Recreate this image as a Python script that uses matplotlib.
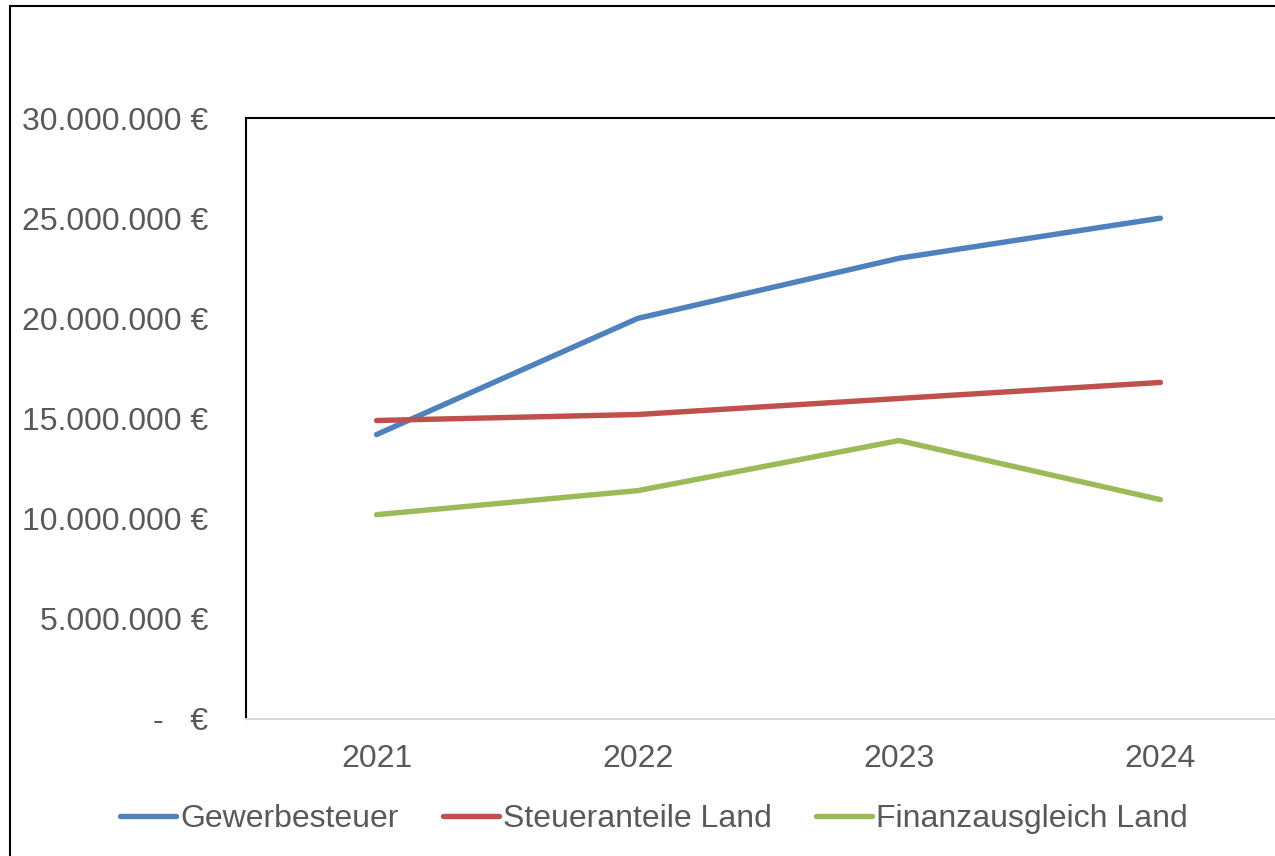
import matplotlib
matplotlib.use("Agg")
import matplotlib.pyplot as plt
from matplotlib.patches import Rectangle
from matplotlib.ticker import FuncFormatter, MultipleLocator

plt.rcParams['font.family'] = ['Liberation Sans', 'DejaVu Sans']

# Einnahmen pro Jahr in Euro
jahre = ['2021', '2022', '2023', '2024']
gewerbesteuer = [14_200_000, 20_000_000, 23_000_000, 25_000_000]
steueranteile_land = [14_900_000, 15_200_000, 16_000_000, 16_800_000]
finanzausgleich_land = [10_200_000, 11_400_000, 13_900_000, 10_950_000]

reihen = [
    ('Gewerbesteuer', gewerbesteuer, '#4F81BD'),
    ('Steueranteile Land', steueranteile_land, '#C0504D'),
    ('Finanzausgleich Land', finanzausgleich_land, '#9BBB59'),
]

textfarbe = '#595959'


def euro(wert, pos=None):
    if wert == 0:
        return '-   €'
    return f'{int(wert):,}'.replace(',', '.') + ' €'


fig = plt.figure(figsize=(12.75, 8.56), dpi=100)
# Diagrammfläche reicht rechts über den Bildrand hinaus
ax = fig.add_axes([246 / 1275, 1 - 719 / 856, 1045 / 1275, 601 / 856])

x = list(range(len(jahre)))
for name, werte, farbe in reihen:
    ax.plot(x, werte, color=farbe, linewidth=3.9, solid_capstyle='round',
            solid_joinstyle='round', label=name)

ax.set_xlim(-0.5, len(jahre) - 0.5)
ax.set_ylim(0, 30_000_000)
ax.set_xticks(x)
ax.set_xticklabels(jahre)
ax.yaxis.set_major_locator(MultipleLocator(5_000_000))
ax.yaxis.set_major_formatter(FuncFormatter(euro))
ax.tick_params(axis='y', length=0, pad=27, labelsize=23, labelcolor=textfarbe)
ax.tick_params(axis='x', length=0, pad=18, labelsize=23, labelcolor=textfarbe)

ax.spines['left'].set_color('black')
ax.spines['left'].set_linewidth(1.5)
ax.spines['top'].set_color('black')
ax.spines['top'].set_linewidth(1.5)
ax.spines['right'].set_visible(False)
ax.spines['bottom'].set_color('#D9D9D9')
ax.spines['bottom'].set_linewidth(1.5)

fig.legend(loc='center', bbox_to_anchor=(654 / 1275, 1 - 819 / 856), ncol=3,
           frameon=False, fontsize=23, labelcolor=textfarbe,
           handlelength=1.75, handletextpad=0.12, columnspacing=1.4)

# Rahmen um das gesamte Diagramm
rahmen = Rectangle((10 / 1275, -0.2), 1.2, 1 - 6 / 856 + 0.2, transform=fig.transFigure,
                   fill=False, edgecolor='black', linewidth=1.5)
fig.patches.append(rahmen)

fig.savefig('out.png', dpi=100)
